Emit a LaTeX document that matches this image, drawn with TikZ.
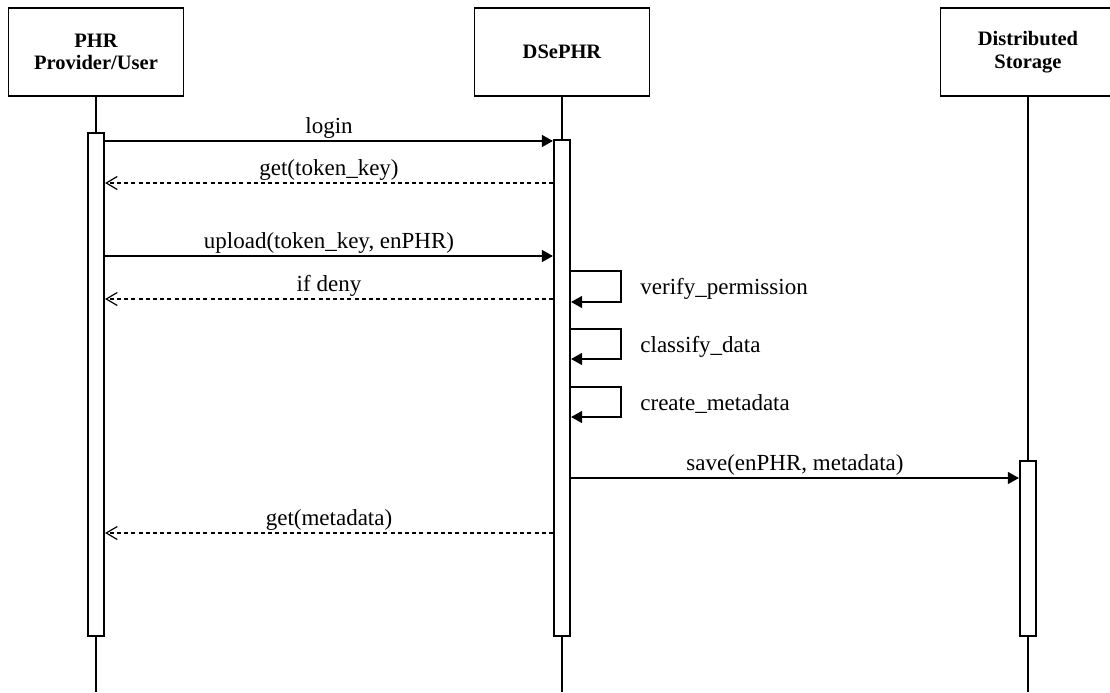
\documentclass[tikz,border=0pt]{standalone}
\usepackage{fontspec}
\setmainfont{Liberation Serif}
\usetikzlibrary{arrows.meta}

\tikzset{
  actor/.style={draw,line width=0.7pt,minimum width=87.5pt,minimum height=44pt,
    align=center,font=\fontsize{10.25}{11.2}\selectfont\bfseries},
  lifeline/.style={line width=1pt},
  actbar/.style={draw,fill=white,line width=1.1pt,minimum width=8pt,inner sep=0pt,anchor=north},
  call/.style={line width=0.65pt,-{Triangle[length=5.5pt,width=6pt]}},
  reply/.style={line width=0.6pt,dash pattern=on 2pt off 1.6pt,-{Straight Barb[length=5.5pt,width=6.5pt]}},
  msg/.style={font=\fontsize{11.5}{13}\selectfont,anchor=base,inner sep=0pt,yshift=4pt},
  note/.style={font=\fontsize{11.5}{13}\selectfont,anchor=base west,inner sep=0pt}
}

\begin{document}
\begin{tikzpicture}[x=0.5pt,y=-0.5pt]
    \path[use as bounding box,clip] (0,0) rectangle (1110,692);
    \coordinate (bottom) at (0,692);
    % Participants
    \node[actor] (phr) at (96,52) {PHR\\Provider/User};
    \node[actor] (dse) at (562,52) {DSePHR};
    \node[actor] (sto) at (1028,52) {Distributed\\Storage};
    % Lifelines
    \draw[lifeline] (phr.south) -- (phr.south |- bottom);
    \draw[lifeline] (dse.south) -- (dse.south |- bottom);
    \draw[lifeline] (sto.south) -- (sto.south |- bottom);
    % Activation bars
    \node[actbar,minimum height=251.5pt] (pbar) at (96,132) {};
    \node[actbar,minimum height=248pt] (dbar) at (562,139) {};
    \node[actbar,minimum height=87.5pt] (sbar) at (1028,460) {};
    % Login
    \draw[call] (pbar.east |- 0,141) -- node[msg] {login} (dbar.west |- 0,141);
    \draw[reply] (dbar.west |- 0,183) -- node[msg] {get(token\_key)} (pbar.east |- 0,183);
    % Upload
    \draw[call] (pbar.east |- 0,256) -- node[msg] {upload(token\_key, enPHR)} (dbar.west |- 0,256);
    \draw[reply] (dbar.west |- 0,299) -- node[msg] {if deny} (pbar.east |- 0,299);
    % Self calls on DSePHR
    \draw[call] (dbar.east |- 0,271) -- ++(50,0) -- ++(0,31) -- (dbar.east |- 0,302);
    \node[note] (verify) at (640,294) {verify\_permission};
    \draw[call] (dbar.east |- 0,329) -- ++(50,0) -- ++(0,30) -- (dbar.east |- 0,359);
    \node[note] (classify) at (640,352) {classify\_data};
    \draw[call] (dbar.east |- 0,387) -- ++(50,0) -- ++(0,30) -- (dbar.east |- 0,417);
    \node[note] (create) at (640,410) {create\_metadata};
    % Save to storage
    \draw[call] (dbar.east |- 0,478) -- node[msg] {save(enPHR, metadata)} (sbar.west |- 0,478);
    \draw[reply] (dbar.west |- 0,533) -- node[msg] {get(metadata)} (pbar.east |- 0,533);
  \end{tikzpicture}
\end{document}
